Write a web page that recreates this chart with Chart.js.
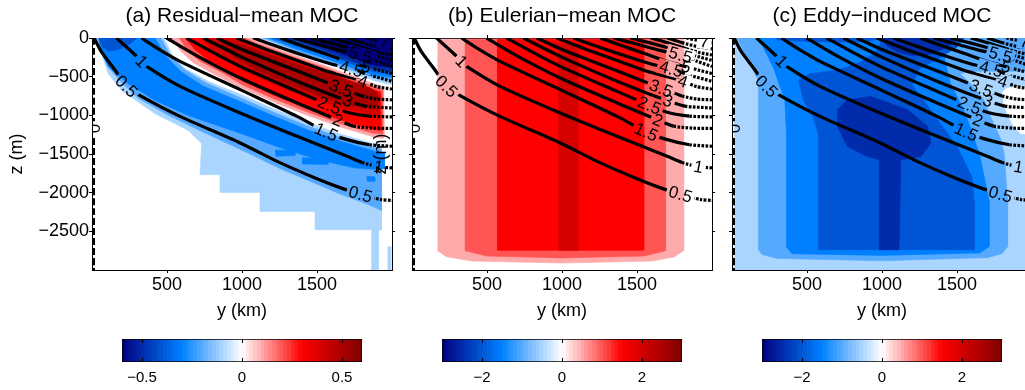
<!DOCTYPE html>
<html>
<head>
<meta charset="utf-8">
<script src="https://cdn.jsdelivr.net/npm/chart.js@4.4.1/dist/chart.umd.min.js"></script>
<style>
  html, body { margin: 0; padding: 0; background: #fff; overflow: hidden; width: 1025px; height: 390px; position: relative; }
  canvas { position: absolute; }
</style>
</head>
<body>
<canvas id="panelA" width="484" height="322" style="left:0px;top:0px"></canvas>
<canvas id="panelB" width="396" height="322" style="left:364px;top:0px"></canvas>
<canvas id="panelC" width="396" height="322" style="left:684px;top:0px"></canvas>
<canvas id="barA" width="284" height="60" style="left:100px;top:330px"></canvas>
<canvas id="barB" width="284" height="60" style="left:420px;top:330px"></canvas>
<canvas id="barC" width="284" height="60" style="left:740px;top:330px"></canvas>
<script>
// axes
const yTicks = [500, 1000, 1500];
const zTicks = [-2500, -2000, -1500, -1000, -500, 0];

// black contour lines, [y (km), z (m)]
const c0  = [[12,0],[12,-3000]];
const c05 = [[15,0],[60,-170],[152,-410],[230,-625],[330,-754],[587,-1013],[988,-1357],[1256,-1615],[1500,-1820],[1657,-1938],[1790,-2020],[1924,-2089],[2000,-2100]];
const c10 = [[163,0],[274,-194],[330,-300],[364,-367],[587,-625],[988,-969],[1367,-1271],[1701,-1529],[1800,-1610],[1910,-1665],[2000,-1680]];
const c15 = [[330,0],[450,-150],[587,-302],[988,-668],[1367,-1013],[1561,-1215],[1701,-1314],[1850,-1380],[2000,-1400]];
const c20 = [[497,0],[700,-230],[988,-517],[1367,-840],[1639,-1060],[1744,-1140],[1870,-1165],[2000,-1170]];
const c25 = [[631,0],[800,-180],[988,-367],[1367,-690],[1583,-870],[1701,-960],[1850,-1010],[2000,-1020]];
const c30 = [[743,0],[988,-237],[1367,-560],[1550,-700],[1706,-810],[1820,-880],[2000,-905]];
const c35 = [[832,0],[1000,-150],[1200,-300],[1400,-450],[1661,-650],[1800,-750],[1900,-790],[2000,-800]];
const c40 = [[965,0],[1150,-140],[1367,-290],[1550,-420],[1700,-500],[1806,-560],[1900,-630],[2000,-660]];
const c45 = [[1077,0],[1250,-120],[1450,-250],[1600,-340],[1728,-400],[1850,-480],[2000,-560]];
const c50 = [[1256,0],[1400,-100],[1550,-200],[1700,-300],[1828,-370],[1920,-420],[2000,-460]];
const c55 = [[1345,0],[1500,-80],[1650,-160],[1790,-218],[1900,-300],[2000,-370]];
const c60 = [[1458,0],[1600,-70],[1750,-150],[1870,-220],[2000,-290]];
const c65 = [[1591,0],[1720,-70],[1830,-140],[1920,-190],[2000,-220]];
const c70 = [[1701,0],[1800,-60],[1900,-110],[2000,-140]];
const c75 = [[1830,0],[1900,-30],[1950,-45],[2000,-60]];
const contourLines = [c0, c05, c10, c15, c20, c25, c30, c35, c40, c45, c50, c55, c60, c65, c70, c75];

// inline labels: text, line, y, z
const contourLabels = [
  ['0', c0, 12, -1170], ['0.5', c05, 230, -625], ['1', c10, 330, -300],
  ['0.5', c05, 1790, -2020], ['1', c10, 1910, -1665], ['1.5', c15, 1561, -1215],
  ['2', c20, 1639, -1060], ['2.5', c25, 1583, -870], ['3', c30, 1706, -810],
  ['3.5', c35, 1661, -650], ['4', c40, 1806, -560], ['4.5', c45, 1728, -400],
  ['5', c50, 1828, -370], ['5.5', c55, 1790, -218], ['7', c75, 1950, -45]
];

// (a) residual-mean, filled regions
const resN1 = [[25,0],[480,0],[540,-245],[630,-405],[780,-565],[1009,-745],[1211,-916],[1433,-1089],[1655,-1240],[1877,-1369],[1930,-1395],[1930,-2479],[1910,-2490],[1909,-3000],[1864,-3000],[1864,-2479],[1487,-2479],[1487,-2243],[1120,-2243],[1120,-1997],[853,-1997],[853,-1768],[720,-1768],[731,-1367],[642,-1195],[531,-1086],[420,-979],[309,-828],[197,-678],[109,-462],[31,-31]];
const resN1b = [[1970,-2700],[1992,-2700],[1992,-3000],[1970,-3000]];
const resN2 = [[35,0],[460,0],[520,-220],[610,-400],[760,-580],[1009,-790],[1211,-960],[1433,-1135],[1655,-1285],[1877,-1415],[1930,-1440],[1930,-2230],[1850,-2160],[1657,-2020],[1500,-1890],[1256,-1690],[988,-1440],[700,-1180],[500,-990],[309,-780],[190,-560],[110,-380],[55,-150]];
const resN3 = [[42,0],[420,0],[490,-230],[590,-430],[740,-620],[1009,-840],[1211,-1010],[1433,-1185],[1655,-1335],[1877,-1460],[1950,-1490],[1950,-1690],[1900,-1700],[1750,-1680],[1500,-1570],[1256,-1420],[997,-1238],[864,-1151],[642,-1001],[420,-807],[242,-591],[109,-375],[60,-170]];
const resN3b = [[1220,-1450],[1350,-1450],[1353,-1520],[1225,-1530]];
const resN3c = [[1400,-1550],[1570,-1560],[1576,-1635],[1400,-1630]];
const resN3d = [[1830,-1790],[1885,-1795],[1889,-1850],[1835,-1855]];
const resN4 = [[50,0],[300,0],[250,-80],[180,-150],[110,-170],[70,-120],[55,-50]];
const resT1 = [[1100,0],[2000,0],[2000,-600],[1966,-591],[1877,-548],[1722,-440],[1544,-310],[1322,-160]];
const resT2 = [[1140,0],[2000,0],[2000,-550],[1877,-510],[1722,-410],[1544,-285],[1322,-140]];
const resT3 = [[1170,0],[2000,0],[2000,-510],[1880,-480],[1730,-380],[1545,-260],[1330,-120]];
const resT4 = [[1200,0],[2000,0],[2000,-470],[1880,-440],[1740,-340],[1550,-220],[1340,-90]];
const resT5 = [[1250,0],[2000,0],[2000,-430],[1880,-400],[1750,-300],[1560,-170],[1380,-50]];
const resT6 = [[1320,0],[2000,0],[2000,-380],[1900,-360],[1833,-330],[1722,-240],[1544,-116],[1400,-30]];
const resP1 = [[530,0],[1060,0],[1100,-40],[1322,-200],[1544,-350],[1722,-480],[1877,-590],[1945,-630],[1950,-1260],[1940,-1300],[1877,-1279],[1655,-1150],[1433,-999],[1211,-826],[1009,-655],[820,-475],[675,-320],[585,-160]];
const resP2 = [[580,0],[1020,0],[1100,-70],[1322,-230],[1544,-380],[1722,-510],[1877,-630],[1935,-670],[1938,-1240],[1877,-1235],[1655,-1105],[1433,-955],[1211,-785],[1009,-610],[860,-440],[720,-300],[630,-150]];
const resP3 = [[620,0],[980,0],[1100,-100],[1322,-260],[1544,-420],[1722,-550],[1877,-670],[1925,-700],[1928,-1200],[1877,-1180],[1655,-1060],[1433,-910],[1211,-740],[1009,-560],[900,-410],[770,-280],[680,-140]];
const resP4 = [[720,0],[950,0],[1100,-130],[1322,-290],[1544,-450],[1722,-580],[1877,-700],[1915,-730],[1918,-1000],[1877,-990],[1655,-900],[1433,-770],[1211,-600],[1009,-420],[820,-200]];
const resP5 = [[850,-40],[1000,-90],[1200,-230],[1450,-390],[1650,-510],[1850,-640],[1900,-700],[1900,-880],[1722,-880],[1500,-740],[1300,-590],[1100,-420],[950,-250],[870,-120]];
const resFills = [
  [-0.1, resN1], [-0.1, resN1b], [-0.2, resN2], [-0.3, resN3], [-0.3, resN3b], [-0.3, resN3c], [-0.3, resN3d], [-0.4, resN4],
  [-0.1, resT1], [-0.2, resT2], [-0.3, resT3], [-0.4, resT4], [-0.5, resT5], [-0.6, resT6],
  [0.1, resP1], [0.2, resP2], [0.3, resP3], [0.4, resP4], [0.5, resP5]
];

// (b) Eulerian-mean
const eulP1 = [[170,-15],[1811,-15],[1811,-2750],[1750,-2830],[1600,-2885],[1000,-2910],[400,-2885],[230,-2830],[170,-2750]];
const eulP2 = [[352,-15],[1690,-15],[1690,-2750],[1550,-2820],[1000,-2845],[500,-2820],[352,-2750]];
const eulP3 = [[567,-15],[1545,-15],[1545,-2746],[567,-2746]];
const eulP4 = [[945,-70],[1140,-70],[1140,-130],[1106,-140],[1106,-2746],[978,-2746],[978,-140],[945,-130]];
const eulFills = [[0.5, eulP1], [1, eulP2], [1.5, eulP3], [2, eulP4]];

// (c) eddy-induced
const eddN1 = [[15,0],[2000,0],[2000,-3000],[15,-3000]];
const eddZ  = [[1803,-700],[1830,-650],[1900,-630],[2000,-630],[2000,-1240],[1930,-1240],[1880,-1150],[1840,-1000],[1810,-850]];
const eddN2 = [[30,0],[2000,0],[2000,-430],[1600,-430],[1520,-460],[1592,-591],[1680,-800],[1720,-1000],[1790,-1300],[1815,-1500],[1837,-2100],[1837,-2700],[1800,-2790],[1700,-2840],[1000,-2880],[300,-2850],[200,-2800],[178,-2740],[178,-800],[174,-550],[120,-330],[70,-150]];
const eddN3 = [[163,0],[1400,0],[1420,-300],[1458,-591],[1560,-1000],[1650,-1500],[1714,-2100],[1714,-2700],[1650,-2780],[1000,-2811],[400,-2790],[363,-2700],[363,-1238],[352,-807],[274,-375],[207,-116]];
const eddN4 = [[441,-548],[519,-462],[698,-419],[850,-320],[950,-200],[990,-60],[1000,0],[1550,0],[1500,-120],[1380,-260],[1250,-400],[1200,-600],[1350,-1000],[1500,-1400],[1600,-1800],[1614,-2100],[1614,-2738],[575,-2738],[575,-1238],[541,-1022],[475,-807]];
const eddN4b = [[290,0],[1000,0],[900,-50],[700,-55],[500,-45],[300,-25]];
const eddN5 = [[702,-927],[769,-798],[925,-755],[1171,-927],[1304,-1143],[1326,-1358],[1260,-1531],[1125,-1574],[1114,-2738],[981,-2738],[981,-1574],[903,-1531],[769,-1402],[702,-1143]];
const eddN5b = [[990,0],[1500,0],[1480,-60],[1400,-150],[1300,-220],[1200,-230],[1100,-180],[1030,-100]];
const eddFills = [[-0.5, eddN1], [0, eddZ], [-1, eddN2], [-1.5, eddN3], [-2, eddN4], [-2, eddN4b], [-2.5, eddN5], [-2.5, eddN5b]];

// colour bars
const resRange = [-0.6, 0.6];
const eulRange = [-3, 3];
const eddRange = [-3, 3];
const resBarTicks = [-0.5, 0, 0.5];
const eulBarTicks = [-2, 0, 2];
const eddBarTicks = [-2, 0, 2];

const FONT = "'Liberation Sans', Arial, Helvetica, sans-serif";
Chart.defaults.font.family = FONT;
Chart.defaults.color = '#000';

const cmapPos = [0, 0.25, 0.5, 0.75, 1];
const cmapRgb = [[0,0,128],[0,128,255],[255,255,255],[255,0,0],[128,0,0]];
function cmap(t) {
  t = Math.max(0, Math.min(1, t));
  let i = 0;
  while (i < cmapPos.length - 2 && t > cmapPos[i + 1]) i++;
  const f = (t - cmapPos[i]) / (cmapPos[i + 1] - cmapPos[i]);
  const c = cmapRgb[i].map((v, k) => Math.round(v + (cmapRgb[i + 1][k] - v) * f));
  return 'rgb(' + c[0] + ',' + c[1] + ',' + c[2] + ')';
}

const fmt = v => v < 0 ? '\u2212' + Math.abs(v) : String(v);

function toXY(pts) {
  return pts.map(p => ({ x: p[0], y: p[1] }));
}

// label boxes in pixels, rotated along their line
function labelBoxes(chart) {
  const xs = chart.scales.x, ys = chart.scales.y;
  const ctx = chart.ctx;
  ctx.save();
  ctx.font = '17px ' + FONT;
  const out = contourLabels.map(([txt, line, yv, zv]) => {
    let k = 0, bd = Infinity;
    line.forEach((p, i) => {
      const d = Math.hypot(p[0] - yv, (p[1] - zv) / 1.5);
      if (d < bd) { bd = d; k = i; }
    });
    const a = line[Math.max(0, k - 1)], b = line[Math.min(line.length - 1, k + 1)];
    const dx = xs.getPixelForValue(b[0]) - xs.getPixelForValue(a[0]);
    const dy = ys.getPixelForValue(b[1]) - ys.getPixelForValue(a[1]);
    let ang = Math.atan2(dy, dx);
    if (ang > Math.PI / 2) ang -= Math.PI;
    if (ang < -Math.PI / 2) ang += Math.PI;
    return { txt, px: xs.getPixelForValue(yv), py: ys.getPixelForValue(zv), ang, w: ctx.measureText(txt).width + 5 };
  });
  ctx.restore();
  return out;
}

const contourLabelPlugin = {
  id: 'contourLabels',
  beforeDatasetDraw(chart, args) {
    const ds = chart.data.datasets[args.index];
    if (!ds.isContour) return;
    const ctx = chart.ctx;
    ctx.save();
    ctx.beginPath();
    ctx.rect(0, 0, chart.width, chart.height);
    labelBoxes(chart).forEach(b => {
      const c = Math.cos(b.ang), s = Math.sin(b.ang);
      const hw = b.w / 2, hh = 7.5;
      [[-hw, -hh], [hw, -hh], [hw, hh], [-hw, hh]].forEach(([u, v], i) => {
        const X = b.px + u * c - v * s, Y = b.py + u * s + v * c;
        if (i === 0) ctx.moveTo(X, Y); else ctx.lineTo(X, Y);
      });
      ctx.closePath();
    });
    ctx.clip('evenodd');
  },
  afterDatasetDraw(chart, args) {
    const ds = chart.data.datasets[args.index];
    if (ds.isContour) chart.ctx.restore();
  },
  afterDatasetsDraw(chart) {
    const ctx = chart.ctx;
    const a = chart.chartArea;
    ctx.save();
    ctx.beginPath();
    ctx.rect(a.left, a.top, a.right - a.left, a.bottom - a.top);
    ctx.clip();
    ctx.font = '17px ' + FONT;
    ctx.fillStyle = '#000';
    ctx.textAlign = 'center';
    ctx.textBaseline = 'middle';
    labelBoxes(chart).forEach(b => {
      ctx.save();
      ctx.translate(b.px, b.py);
      ctx.rotate(b.ang);
      ctx.fillText(b.txt, 0, 1);
      ctx.restore();
    });
    ctx.restore();
  }
};

function axisGrid(len) {
  return { drawOnChartArea: false, drawTicks: true, tickLength: len, color: '#000', lineWidth: 1 };
}

function makePanel(id, title, fills, range, yLabel, showYTicks, sideWidth) {
  const datasets = [];
  const n = fills.length;
  fills.forEach(([level, pts], i) => {
    const col = cmap((level - range[0]) / (range[1] - range[0]));
    datasets.push({
      data: toXY(pts), fill: 'shape', backgroundColor: col, borderColor: col,
      borderWidth: 0.6, pointRadius: 0, tension: 0, order: 100 + n - i
    });
  });
  contourLines.forEach(line => {
    const wall = line === c0;
    datasets.push({
      data: toXY(line), fill: false, borderColor: '#000', borderWidth: wall ? 2.4 : 3.2,
      borderDash: wall ? [7, 3] : [], pointRadius: 0, tension: 0.25, order: 0, isContour: true,
      segment: { borderDash: s => (!wall && s.p1.parsed.x > 1860) ? [2.6, 1.4] : undefined }
    });
  });

  new Chart(document.getElementById(id), {
    type: 'line',
    data: { datasets },
    plugins: [contourLabelPlugin],
    options: {
      responsive: false, animation: false, devicePixelRatio: 1, events: [],
      layout: { padding: 0 },
      plugins: {
        legend: { display: false }, tooltip: { enabled: false },
        title: { display: true, text: title, font: { size: 21, weight: 'normal' }, color: '#000', padding: { top: 4, bottom: 8.8 } }
      },
      scales: {
        x: {
          type: 'linear', position: 'bottom', min: 0, max: 2000,
          afterBuildTicks: s => { s.ticks = yTicks.map(v => ({ value: v })); },
          ticks: { font: { size: 18 }, padding: 1, autoSkip: false, maxRotation: 0, callback: fmt },
          grid: axisGrid(3), border: { color: '#000', width: 1 },
          title: { display: true, text: 'y (km)', font: { size: 18 }, padding: { top: 0, bottom: 0 } },
          afterFit: s => { s.height = 52; }
        },
        xTop: {
          type: 'linear', position: 'top', min: 0, max: 2000,
          afterBuildTicks: s => { s.ticks = yTicks.map(v => ({ value: v })); },
          ticks: { display: false }, grid: axisGrid(3), border: { color: '#000', width: 1 },
          afterFit: s => { s.height = 0; }
        },
        y: {
          type: 'linear', position: 'left', min: -3000, max: 0,
          afterBuildTicks: s => { s.ticks = zTicks.map(v => ({ value: v })); },
          ticks: { display: showYTicks, font: { size: 18 }, padding: 0, autoSkip: false, callback: fmt },
          grid: axisGrid(3), border: { color: '#000', width: 1 },
          title: { display: yLabel, text: 'z (m)', font: { size: 18 }, padding: { top: 6, bottom: 0 } },
          afterFit: s => { s.width = sideWidth; }
        },
        yRight: {
          type: 'linear', position: 'right', min: -3000, max: 0,
          afterBuildTicks: s => { s.ticks = zTicks.map(v => ({ value: v })); },
          ticks: { display: false }, grid: axisGrid(3), border: { color: '#000', width: 1 },
          afterFit: s => { s.width = sideWidth; }
        }
      }
    }
  });
}

// stepped colour scale, 64 flat steps like the colormap of the figure
function barGradient(chart) {
  const a = chart.chartArea;
  if (!a) return '#fff';
  const g = chart.ctx.createLinearGradient(a.left, 0, a.right, 0);
  const steps = 64;
  for (let i = 0; i < steps; i++) {
    const col = cmap((i + 0.5) / steps);
    g.addColorStop(i / steps, col);
    g.addColorStop((i + 1) / steps, col);
  }
  return g;
}

function makeColorbar(id, range, ticks) {
  const inTicks = { display: true, drawOnChartArea: false, drawTicks: true, tickLength: -4, color: '#000', lineWidth: 1, z: 1 };
  new Chart(document.getElementById(id), {
    type: 'bar',
    data: {
      labels: [''],
      datasets: [{
        data: [range], backgroundColor: c => barGradient(c.chart),
        borderColor: '#000', borderWidth: 1, borderSkipped: false,
        barPercentage: 1, categoryPercentage: 1
      }]
    },
    options: {
      indexAxis: 'y', responsive: false, animation: false, devicePixelRatio: 1, events: [],
      layout: { padding: { left: 22, right: 22, top: 9, bottom: 0 } },
      plugins: { legend: { display: false }, tooltip: { enabled: false } },
      scales: {
        x: {
          type: 'linear', position: 'bottom', min: range[0], max: range[1],
          afterBuildTicks: s => { s.ticks = ticks.map(v => ({ value: v })); },
          grid: inTicks, border: { display: false },
          ticks: { padding: 11, font: { size: 15, family: "'Liberation Sans Narrow', 'Liberation Sans', sans-serif" }, callback: fmt },
          afterFit: s => { s.height = 28; }
        },
        xTop: {
          type: 'linear', position: 'top', min: range[0], max: range[1],
          afterBuildTicks: s => { s.ticks = ticks.map(v => ({ value: v })); },
          grid: inTicks, border: { display: false }, ticks: { display: false },
          afterFit: s => { s.height = 0; }
        },
        y: { display: false }
      }
    }
  });
}

makePanel('panelA', '(a) Residual\u2212mean MOC', resFills, resRange, true, true, 92);
makePanel('panelB', '(b) Eulerian\u2212mean MOC', eulFills, eulRange, true, false, 48);
makePanel('panelC', '(c) Eddy\u2212induced MOC', eddFills, eddRange, false, false, 48);
makeColorbar('barA', resRange, resBarTicks);
makeColorbar('barB', eulRange, eulBarTicks);
makeColorbar('barC', eddRange, eddBarTicks);
</script>
</body>
</html>
